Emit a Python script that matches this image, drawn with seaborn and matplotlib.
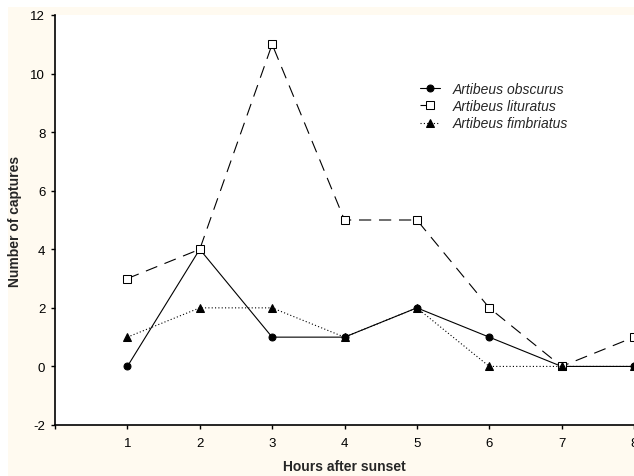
import pandas as pd
import matplotlib.pyplot as plt
import seaborn as sns
from matplotlib.patches import Rectangle

hours = [1, 2, 3, 4, 5, 6, 7, 8]
obscurus = [0, 4, 1, 1, 2, 1, 0, 0]
lituratus = [3, 4, 11, 5, 5, 2, 0, 1]
fimbriatus = [1, 2, 2, 1, 2, 0, 0, 0]

df = pd.DataFrame({'hours': hours, 'obscurus': obscurus,
                   'lituratus': lituratus, 'fimbriatus': fimbriatus})

sns.set_style('ticks')
plt.rcParams['font.family'] = ['Liberation Sans', 'DejaVu Sans']
plt.rcParams['axes.unicode_minus'] = False

fig = plt.figure(figsize=(6.34, 4.77), dpi=100)
fig.patch.set_facecolor('white')
fig.patches.append(Rectangle((8 / 634, 0), 1, 1 - 8 / 477, transform=fig.transFigure,
                             facecolor='#fffaf0', edgecolor='none', zorder=-5))

ax = fig.add_axes([55 / 634, 1 - 426 / 477, 1 - 55 / 634, 410 / 477])
ax.set_facecolor('white')
ax.set_zorder(1)

sns.lineplot(data=df, x='hours', y='obscurus', ax=ax, color='black', lw=0.8,
             marker='o', markersize=5, markeredgecolor='black', markerfacecolor='black',
             label='Artibeus obscurus')
sns.lineplot(data=df, x='hours', y='lituratus', ax=ax, color='black', lw=0.8,
             dashes=(11, 7), marker='s', markersize=5.5, markeredgecolor='black',
             markerfacecolor='white', label='Artibeus lituratus')
sns.lineplot(data=df, x='hours', y='fimbriatus', ax=ax, color='black', lw=0.8,
             dashes=(1, 2), marker='^', markersize=5.5, markeredgecolor='black',
             markerfacecolor='black', label='Artibeus fimbriatus')

for ln in ax.lines:
    ln.set_clip_on(False)

ax.set_xlim(0, 8)
ax.set_ylim(-2, 12)
ax.set_xticks(range(0, 9))
ax.set_xticklabels([''] + [str(h) for h in hours])
ax.set_yticks(range(-2, 13, 2))
ax.tick_params(direction='out', length=3, width=1, labelsize=9.5, colors='black', pad=4)
ax.tick_params(axis='x', pad=6)
sns.despine(ax=ax)
for s in ['left', 'bottom']:
    ax.spines[s].set_linewidth(1.2)
    ax.spines[s].set_color('black')

ax.set_xlabel('Hours after sunset', fontsize=10, fontweight='bold', labelpad=7)
ax.set_ylabel('Number of captures', fontsize=10, fontweight='bold', labelpad=6)

leg = ax.legend(loc='upper left', bbox_to_anchor=(407 / 634, 1 - 70 / 477),
                bbox_transform=fig.transFigure, frameon=False, fontsize=10,
                handlelength=1.5, handletextpad=0.9, labelspacing=0.25)
for t in leg.get_texts():
    t.set_fontstyle('italic')

fig.savefig('out.png', dpi=100)
